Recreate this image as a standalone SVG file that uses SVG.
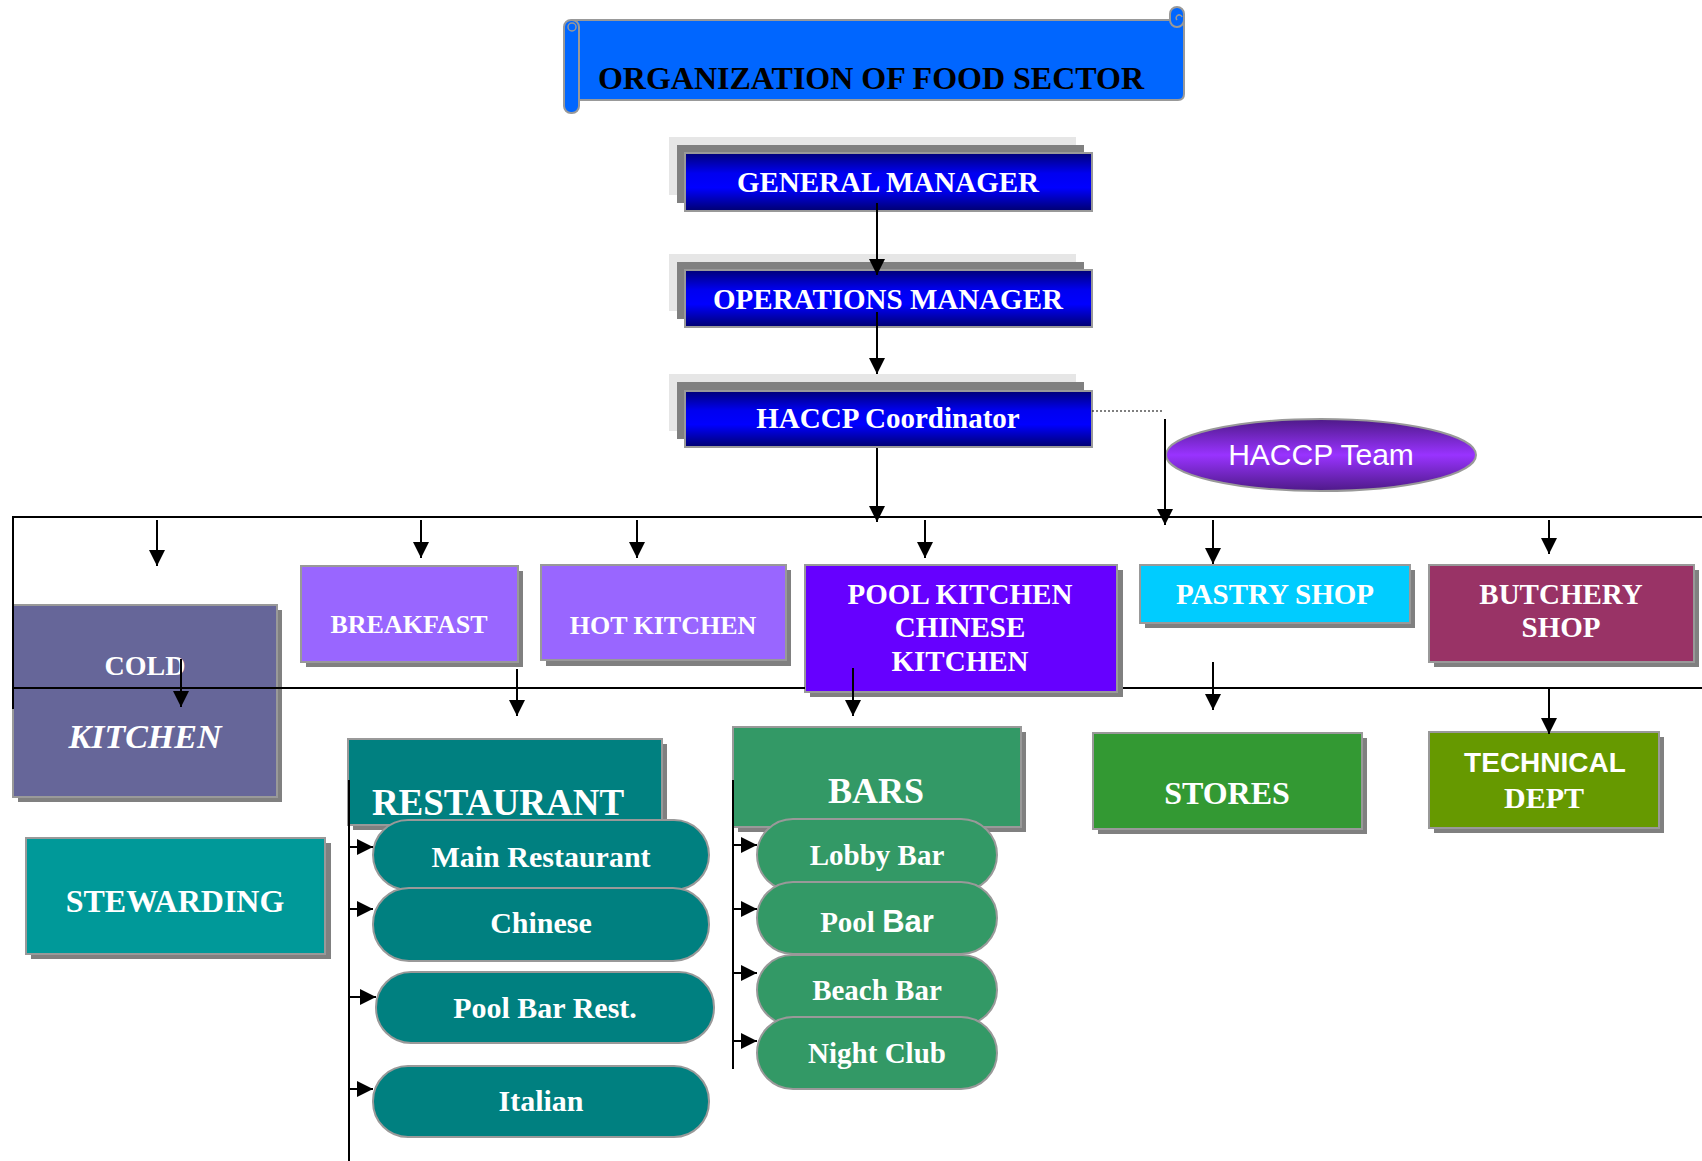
<svg xmlns="http://www.w3.org/2000/svg" width="1702" height="1161" viewBox="0 0 1702 1161">
<defs>
<linearGradient id="gBlue" x1="0" y1="0" x2="0" y2="1">
<stop offset="0" stop-color="#000078"/><stop offset="0.35" stop-color="#0000F0"/><stop offset="0.6" stop-color="#0000FF"/><stop offset="1" stop-color="#000070"/>
</linearGradient>
<linearGradient id="gPurple" x1="0" y1="0" x2="0" y2="1">
<stop offset="0" stop-color="#4E1A88"/><stop offset="0.5" stop-color="#9933FF"/><stop offset="1" stop-color="#4E1A88"/>
</linearGradient>
<marker id="ah" markerUnits="userSpaceOnUse" markerWidth="16" markerHeight="16" viewBox="0 0 16 16" refX="16" refY="8" orient="auto">
<path d="M0,0 L16,8 L0,16 z" fill="#000"/>
</marker>
<style>
.t{font-family:"Liberation Serif","Times New Roman",serif;font-weight:bold;fill:#fff;text-anchor:middle}
.box{stroke:#999;stroke-width:2}
.sh{fill:#808080}
.lg{fill:#E6E6E6}
.pill{stroke:#999;stroke-width:2}
.ln{stroke:#000;stroke-width:2;fill:none}
.ar{stroke:#000;stroke-width:2;fill:none;marker-end:url(#ah)}
</style>
</defs>
<rect width="1702" height="1161" fill="#fff"/>

<g id="title">
<path d="M572,20 H1184 V94 Q1184,100 1178,100 H572 Z" fill="#0066FF" stroke="#999" stroke-width="2"/>
<rect x="1170" y="7" width="14" height="20" rx="7" fill="#0066FF" stroke="#999" stroke-width="2"/>
<path d="M1177,20 a3,3 0 1 1 5,-3" fill="none" stroke="#999" stroke-width="1.5"/>
<rect x="564" y="20" width="15" height="93" rx="7" fill="#0066FF" stroke="#999" stroke-width="2"/>
<circle cx="572" cy="27" r="4" fill="none" stroke="#999" stroke-width="1.5"/>
<text x="871" y="89" style="font-family:'Liberation Serif','Times New Roman',serif;font-weight:bold;font-size:32px;fill:#000;text-anchor:middle">ORGANIZATION OF FOOD SECTOR</text>
</g>

<g id="general-manager">
<rect class="lg" x="669" y="137" width="407" height="58"/>
<rect class="sh" x="677" y="145" width="407" height="58"/>
<rect class="box" x="685" y="153" width="407" height="58" fill="url(#gBlue)"/>
<text class="t" x="888" y="192" font-size="29">GENERAL MANAGER</text>
</g>

<g id="operations-manager">
<rect class="lg" x="669" y="254" width="407" height="57"/>
<rect class="sh" x="677" y="262" width="407" height="57"/>
<rect class="box" x="685" y="270" width="407" height="57" fill="url(#gBlue)"/>
<text class="t" x="888" y="309" font-size="29">OPERATIONS MANAGER</text>
</g>

<g id="haccp-coordinator">
<rect class="lg" x="669" y="374" width="407" height="57"/>
<rect class="sh" x="677" y="382" width="407" height="57"/>
<rect class="box" x="685" y="391" width="407" height="56" fill="url(#gBlue)"/>
<text class="t" x="888" y="428" font-size="29">HACCP Coordinator</text>
</g>

<g id="haccp-team">
<ellipse cx="1321" cy="455" rx="155" ry="36" fill="url(#gPurple)" stroke="#999" stroke-width="2"/>
<text x="1321" y="465" style="font-family:'Liberation Sans',Arial,sans-serif;font-size:30px;fill:#fff;text-anchor:middle">HACCP Team</text>
</g>

<g id="cold-kitchen">
<rect class="sh" x="18" y="610" width="264" height="192"/>
<rect class="box" x="13" y="605" width="264" height="192" fill="#666699"/>
<text class="t" x="145" y="675" font-size="28">COLD</text>
<text class="t" x="145" y="748" font-size="34" font-style="italic">KITCHEN</text>
</g>

<g id="breakfast">
<rect class="sh" x="306" y="571" width="217" height="96"/>
<rect class="box" x="301" y="566" width="217" height="96" fill="#9966FF"/>
<text class="t" x="409" y="633" font-size="26">BREAKFAST</text>
</g>

<g id="hot-kitchen">
<rect class="sh" x="546" y="570" width="245" height="96"/>
<rect class="box" x="541" y="565" width="245" height="95" fill="#9966FF"/>
<text class="t" x="663" y="634" font-size="26">HOT KITCHEN</text>
</g>

<g id="pool-kitchen">
<rect class="sh" x="810" y="570" width="313" height="127"/>
<rect class="box" x="805" y="565" width="312" height="127" fill="#6600FF"/>
<text class="t" x="960" y="604" font-size="29">POOL KITCHEN</text>
<text class="t" x="960" y="637" font-size="29">CHINESE</text>
<text class="t" x="960" y="671" font-size="29">KITCHEN</text>
</g>

<g id="pastry-shop">
<rect class="sh" x="1145" y="570" width="270" height="58"/>
<rect class="box" x="1140" y="565" width="270" height="58" fill="#00CCFF"/>
<text class="t" x="1275" y="604" font-size="29">PASTRY SHOP</text>
</g>

<g id="butchery-shop">
<rect class="sh" x="1434" y="570" width="265" height="97"/>
<rect class="box" x="1429" y="565" width="265" height="97" fill="#993366"/>
<text class="t" x="1561" y="604" font-size="29">BUTCHERY</text>
<text class="t" x="1561" y="637" font-size="29">SHOP</text>
</g>

<g id="restaurant">
<rect class="sh" x="353" y="744" width="314" height="86"/>
<rect class="box" x="348" y="739" width="314" height="86" fill="#008080"/>
<text class="t" x="498" y="815" font-size="37">RESTAURANT</text>
</g>

<g id="bars">
<rect class="sh" x="738" y="732" width="288" height="100"/>
<rect class="box" x="733" y="727" width="288" height="100" fill="#339966"/>
<text class="t" x="876" y="803" font-size="36">BARS</text>
</g>

<g id="stores">
<rect class="sh" x="1098" y="738" width="269" height="96"/>
<rect class="box" x="1093" y="733" width="269" height="96" fill="#339933"/>
<text class="t" x="1227" y="804" font-size="32">STORES</text>
</g>

<g id="technical-dept">
<rect class="sh" x="1434" y="737" width="230" height="96"/>
<rect class="box" x="1429" y="732" width="230" height="96" fill="#669900"/>
<text x="1545" y="772" style="font-family:'Liberation Sans',Arial,sans-serif;font-weight:bold;font-size:28px;fill:#fff;text-anchor:middle">TECHNICAL</text>
<text class="t" x="1544" y="808" font-size="30">DEPT</text>
</g>

<g id="stewarding">
<rect class="sh" x="31" y="843" width="300" height="116"/>
<rect class="box" x="26" y="838" width="299" height="116" fill="#009999"/>
<text class="t" x="175" y="912" font-size="32">STEWARDING</text>
</g>

<g id="main-restaurant">
<rect class="pill" x="373" y="820" width="336" height="70" rx="35" fill="#008080"/>
<text class="t" x="541" y="867" font-size="30">Main Restaurant</text>
</g>
<g id="chinese">
<rect class="pill" x="373" y="888" width="336" height="73" rx="36" fill="#008080"/>
<text class="t" x="541" y="933" font-size="30">Chinese</text>
</g>
<g id="pool-bar-rest">
<rect class="pill" x="376" y="972" width="338" height="71" rx="35" fill="#008080"/>
<text class="t" x="545" y="1018" font-size="30">Pool Bar Rest.</text>
</g>
<g id="italian">
<rect class="pill" x="373" y="1066" width="336" height="71" rx="35" fill="#008080"/>
<text class="t" x="541" y="1111" font-size="30">Italian</text>
</g>

<g id="lobby-bar">
<rect class="pill" x="757" y="819" width="240" height="72" rx="36" fill="#339966"/>
<text class="t" x="877" y="865" font-size="29">Lobby Bar</text>
</g>
<g id="pool-bar">
<rect class="pill" x="757" y="882" width="240" height="72" rx="36" fill="#339966"/>
<text class="t" x="877" y="932" font-size="29">Pool <tspan style="font-family:'Liberation Sans',Arial,sans-serif" font-size="31">Bar</tspan></text>
</g>
<g id="beach-bar">
<rect class="pill" x="757" y="955" width="240" height="70" rx="35" fill="#339966"/>
<text class="t" x="877" y="1000" font-size="29">Beach Bar</text>
</g>
<g id="night-club">
<rect class="pill" x="757" y="1017" width="240" height="72" rx="36" fill="#339966"/>
<text class="t" x="877" y="1063" font-size="29">Night Club</text>
</g>

<g id="connectors">
<line class="ar" x1="877" y1="203" x2="877" y2="275"/>
<line class="ar" x1="877" y1="312" x2="877" y2="374"/>
<line class="ar" x1="877" y1="448" x2="877" y2="522"/>
<line x1="1092" y1="411" x2="1162" y2="411" stroke="#000" stroke-width="1.2" stroke-dasharray="2,2"/>
<line class="ar" x1="1165" y1="419" x2="1165" y2="525"/>
<line class="ln" x1="13" y1="517" x2="1702" y2="517"/>
<line class="ln" x1="13" y1="516" x2="13" y2="709"/>
<line class="ln" x1="13" y1="688" x2="805" y2="688"/>
<line class="ln" x1="1123" y1="688" x2="1702" y2="688"/>
<line class="ar" x1="157" y1="520" x2="157" y2="566"/>
<line class="ar" x1="421" y1="520" x2="421" y2="558"/>
<line class="ar" x1="637" y1="520" x2="637" y2="558"/>
<line class="ar" x1="925" y1="520" x2="925" y2="558"/>
<line class="ar" x1="1213" y1="520" x2="1213" y2="564"/>
<line class="ar" x1="1549" y1="520" x2="1549" y2="554"/>
<line class="ar" x1="181" y1="659" x2="181" y2="707"/>
<line class="ar" x1="517" y1="669" x2="517" y2="716"/>
<line class="ar" x1="853" y1="668" x2="853" y2="716"/>
<line class="ar" x1="1213" y1="662" x2="1213" y2="710"/>
<line class="ar" x1="1549" y1="688" x2="1549" y2="734"/>
<line class="ln" x1="349" y1="780" x2="349" y2="1161"/>
<line class="ar" x1="349" y1="847" x2="373" y2="847"/>
<line class="ar" x1="349" y1="909" x2="373" y2="909"/>
<line class="ar" x1="349" y1="997" x2="376" y2="997"/>
<line class="ar" x1="349" y1="1089" x2="373" y2="1089"/>
<line class="ln" x1="733" y1="780" x2="733" y2="1069"/>
<line class="ar" x1="733" y1="845" x2="757" y2="845"/>
<line class="ar" x1="733" y1="909" x2="757" y2="909"/>
<line class="ar" x1="733" y1="973" x2="757" y2="973"/>
<line class="ar" x1="733" y1="1041" x2="757" y2="1041"/>
</g>
</svg>
